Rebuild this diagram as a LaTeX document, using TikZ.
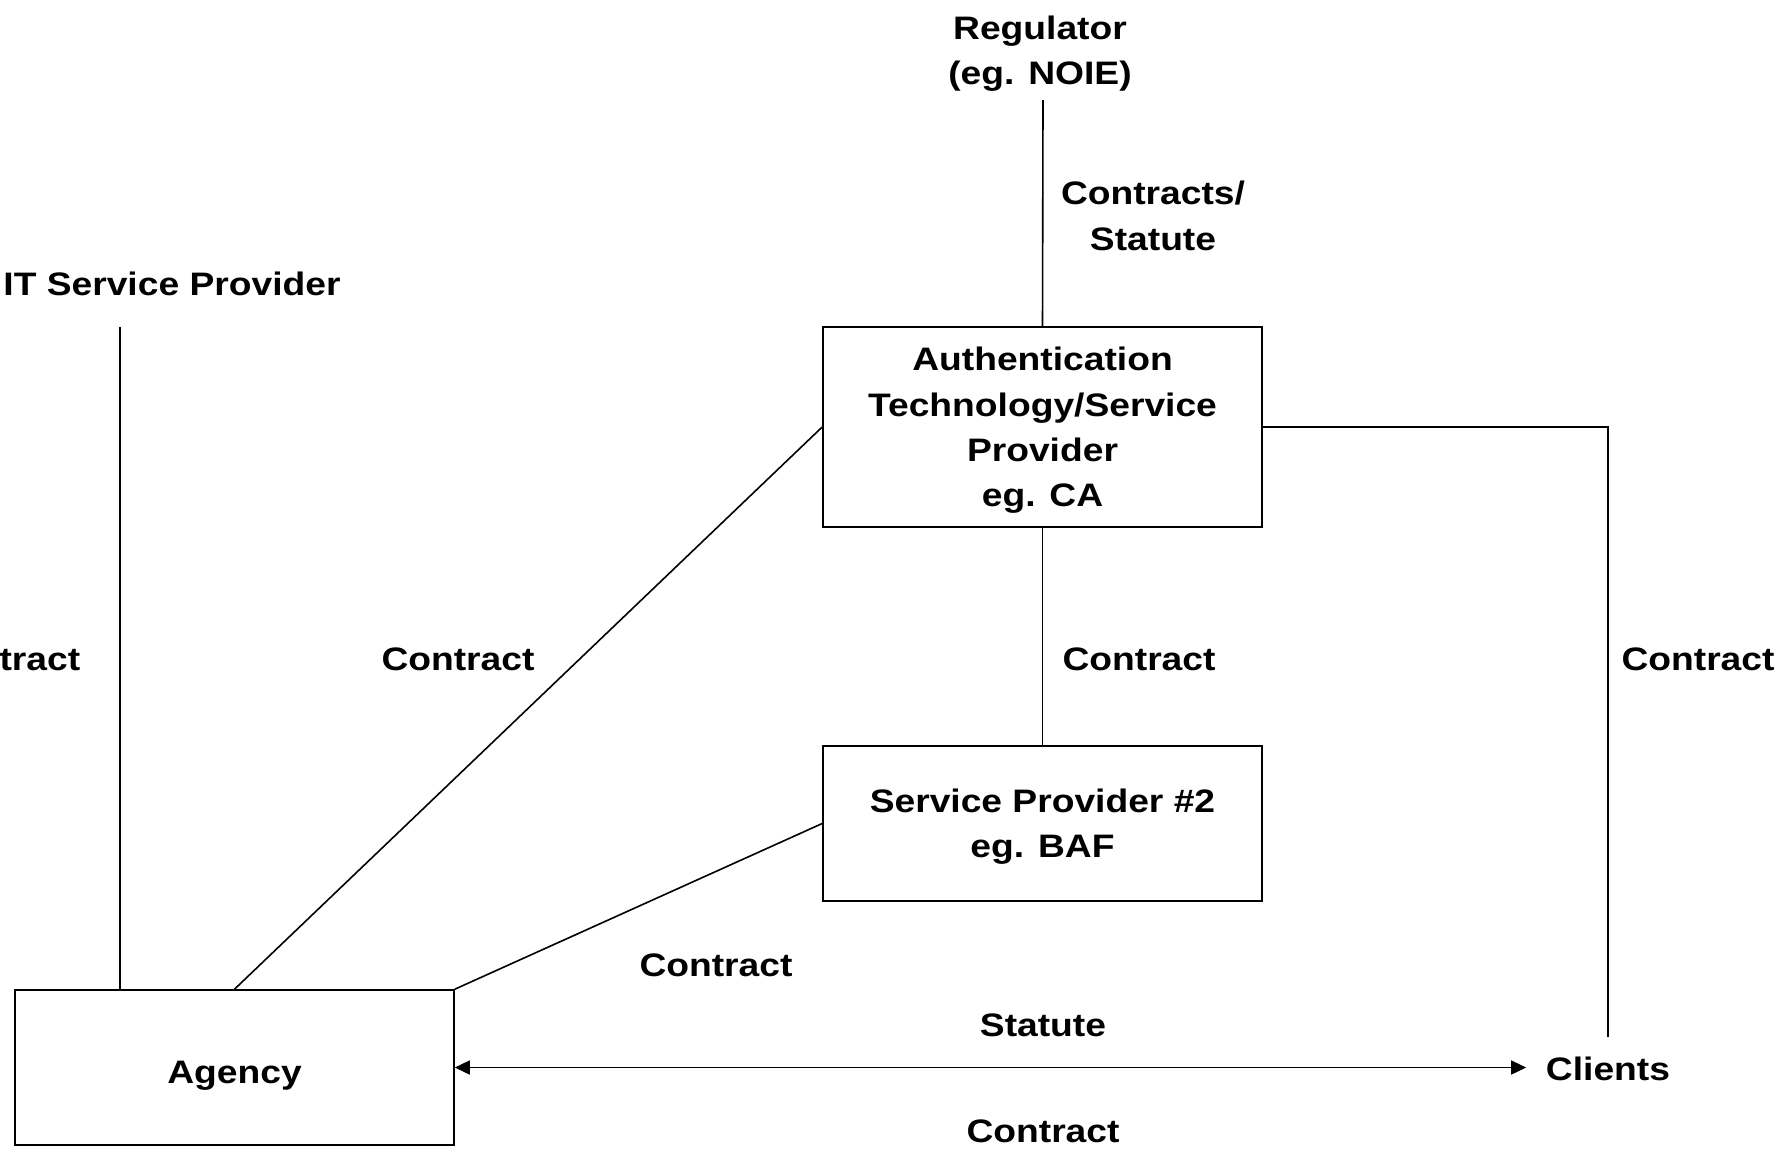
\documentclass[tikz,border=0pt]{standalone}
\usepackage{fontspec}
\setmainfont{Liberation Sans}[FakeStretch=1.145]
\usetikzlibrary{arrows.meta}
\tikzset{
  party/.style = {draw, line width=1.6pt, minimum width=439pt, align=center,
    text depth=0pt, execute at begin node={\rule{0pt}{31pt}}},
  lbl/.style = {align=center, inner sep=0pt},
}
\begin{document}
\begin{tikzpicture}[x=1pt, y=-1pt, line width=1.6pt,
    font=\fontsize{32.5}{45.3}\selectfont\bfseries]
    \useasboundingbox (0,0) rectangle (1787,1152);
    \clip (0,0) rectangle (1787,1152);
    \node[party, minimum height=200pt] (auth) at (1042.5,427)
      {Authentication\\Technology/Service\\Provider\\eg. CA};
    \node[party, minimum height=155pt] (sp) at (1042.5,823.5)
      {Service Provider \#2\\eg. BAF};
    \node[party, minimum height=155pt] (agency) at (234.5,1067.5) {Agency};
    \node[lbl] (reg) at (1040,53.5) {Regulator\\(eg. NOIE)};
    \node[lbl] (it) at (172,284) {IT Service Provider};
    \node[inner sep=19pt] (clients) at (1608,1069) {Clients};
    \coordinate (regend) at (1043,100);
    \coordinate (itend) at (120,327);
    \draw (regend) -- (auth.north);
    \draw (itend) -- (itend |- agency.north);
    \draw (auth.west) -- (agency.north);
    \draw (auth.south) -- (sp.north);
    \draw (sp.west) -- (agency.north east);
    \draw (auth.east) -| (clients.north);
    \draw[{Triangle[length=15pt,width=14pt]}-{Triangle[length=15pt,width=14pt]}]
      (agency.east) -- (agency.east -| clients.west);
    \node[lbl] (lregu) at (1153,216) {Contracts/\\Statute};
    \node[lbl, anchor=east] (lit) at (81,659) {Contract};
    \node[lbl] (lauth) at (458,659) {Contract};
    \node[lbl] (lsp) at (1139,659) {Contract};
    \node[lbl] (lclient) at (1698,659) {Contract};
    \node[lbl] (lagsp) at (716,965) {Contract};
    \node[lbl] (lstat) at (1043,1025) {Statute};
    \node[lbl] (lcontr) at (1043,1131) {Contract};
\end{tikzpicture}
\end{document}
